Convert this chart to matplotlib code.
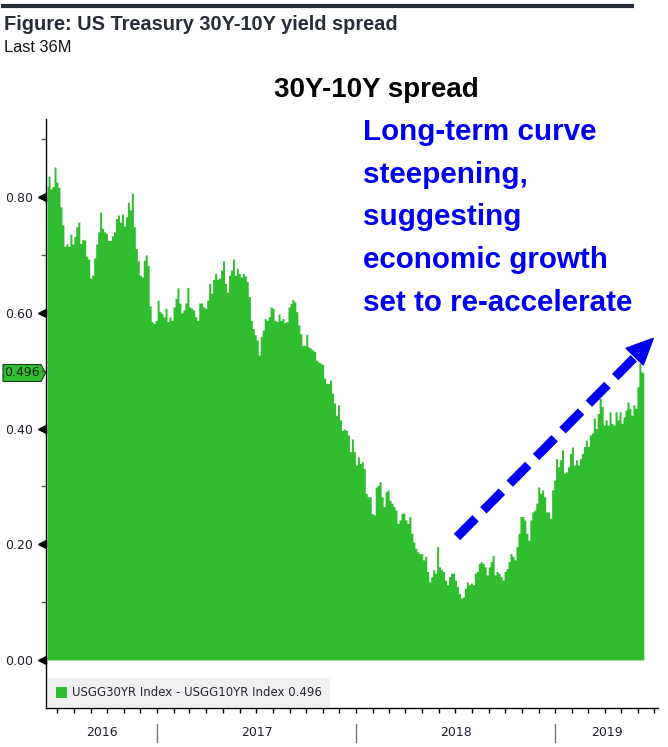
import matplotlib
matplotlib.use("Agg")
import matplotlib.pyplot as plt
import matplotlib.dates as mdates
from matplotlib.patches import Polygon, FancyBboxPatch, Rectangle
from matplotlib.lines import Line2D
import pandas as pd
import numpy as np

# ---------------- data ----------------
start_date = "2016-06-13"
end_date = "2019-06-12"
spread = [
    0.819, 0.836, 0.814, 0.818, 0.852, 0.826, 0.817, 0.783, 0.752, 0.715, 0.719, 0.715, 0.736, 0.719,
    0.732, 0.749, 0.757, 0.720, 0.727, 0.726, 0.698, 0.693, 0.660, 0.665, 0.695, 0.719, 0.740, 0.774,
    0.746, 0.740, 0.737, 0.725, 0.725, 0.733, 0.740, 0.763, 0.769, 0.757, 0.771, 0.750, 0.766, 0.791,
    0.778, 0.807, 0.749, 0.711, 0.690, 0.665, 0.662, 0.691, 0.700, 0.682, 0.612, 0.585, 0.582, 0.587,
    0.622, 0.602, 0.599, 0.593, 0.608, 0.585, 0.593, 0.587, 0.610, 0.625, 0.643, 0.617, 0.600, 0.605,
    0.617, 0.644, 0.610, 0.608, 0.605, 0.593, 0.587, 0.617, 0.617, 0.610, 0.608, 0.622, 0.651,
    0.634, 0.658, 0.668, 0.658, 0.660, 0.674, 0.690, 0.651, 0.636, 0.665, 0.674, 0.693, 0.665, 0.677,
    0.668, 0.662, 0.668, 0.664, 0.654, 0.628, 0.587, 0.573, 0.562, 0.553, 0.527, 0.559, 0.570, 0.590,
    0.587, 0.593, 0.610, 0.608, 0.587, 0.585, 0.598, 0.587, 0.590, 0.583, 0.585, 0.610, 0.616, 0.623,
    0.619, 0.602, 0.579, 0.564, 0.543, 0.544, 0.563, 0.541, 0.539, 0.536, 0.533, 0.518, 0.515, 0.513,
    0.511, 0.487, 0.478, 0.478, 0.484, 0.461, 0.444, 0.423, 0.441, 0.415, 0.397,
    0.399, 0.397, 0.389, 0.360, 0.382, 0.360, 0.337, 0.351, 0.340, 0.343, 0.331, 0.288, 0.282, 0.282,
    0.253, 0.251, 0.299, 0.302, 0.308, 0.282, 0.265, 0.291, 0.294, 0.276, 0.271, 0.265, 0.259, 0.236,
    0.242, 0.253, 0.254, 0.242, 0.236, 0.248, 0.219, 0.204, 0.193, 0.187, 0.184, 0.184, 0.173, 0.179,
    0.153, 0.135, 0.144, 0.156, 0.150, 0.196, 0.161, 0.156, 0.153, 0.138, 0.130, 0.144, 0.150, 0.150,
    0.138, 0.127, 0.115, 0.107, 0.109, 0.124, 0.135, 0.130, 0.133, 0.130, 0.150, 0.153, 0.167, 0.170,
    0.167, 0.161, 0.147, 0.161, 0.170, 0.181, 0.147, 0.153, 0.150, 0.144, 0.138, 0.153, 0.158, 0.170,
    0.184, 0.179, 0.173, 0.196, 0.219, 0.248, 0.248, 0.242, 0.219, 0.207, 0.242, 0.256, 0.259, 0.271,
    0.299, 0.288, 0.294, 0.282, 0.256, 0.256, 0.245, 0.294, 0.311, 0.348, 0.334, 0.346, 0.363, 0.323,
    0.325, 0.334, 0.357, 0.368, 0.337, 0.346, 0.337, 0.348, 0.357, 0.369, 0.380, 0.369, 0.389, 0.392,
    0.418, 0.400, 0.426, 0.452, 0.438, 0.406, 0.415, 0.406, 0.429, 0.409, 0.406, 0.429, 0.415, 0.429,
    0.409, 0.420, 0.432, 0.446, 0.435, 0.423, 0.441, 0.435, 0.472, 0.513, 0.498, 0.496,
]
last_value = 0.496
ytick_values = [0.0, 0.2, 0.4, 0.6, 0.8]
ytick_minor = [0.1, 0.3, 0.5, 0.7, 0.9]
years = [2016, 2017, 2018, 2019]
series_label = "USGG30YR Index - USGG10YR Index 0.496"
fig_title = "Figure: US Treasury 30Y-10Y yield spread"
fig_subtitle = "Last 36M"
chart_title = "30Y-10Y spread"
annotation = "Long-term curve\nsteepening,\nsuggesting\neconomic growth\nset to re-accelerate"

GREEN = "#30BE30"
BLUE = "#0000F0"
DARK = "#262c38"

W, H = 668, 747
plt.rcParams["lines.scale_dashes"] = False
fig = plt.figure(figsize=(W / 100, H / 100), dpi=100)


def fx(px):
    return px / W


def fy(py):
    return 1 - py / H


ax_left, ax_right, ax_top, ax_bottom = 46, 658, 119, 708
ax = fig.add_axes([fx(ax_left), fy(ax_bottom), fx(ax_right) - fx(ax_left), fy(ax_top) - fy(ax_bottom)])

dates = pd.date_range(start_date, end_date, periods=len(spread))
ax.fill_between(dates, spread, 0, step="mid", color=GREEN, linewidth=0)

ax.set_ylim(-0.083, 0.935)
ax.set_xlim(pd.Timestamp("2016-06-11"), pd.Timestamp("2019-07-08"))

for s in ["top", "right"]:
    ax.spines[s].set_visible(False)
for s in ["left", "bottom"]:
    ax.spines[s].set_color("black")
    ax.spines[s].set_linewidth(1.0)

# y axis
ax.set_yticks(ytick_values)
ax.set_yticklabels([f"{v:.2f}" for v in ytick_values])
ax.set_yticks(ytick_minor, minor=True)
ax.tick_params(axis="y", which="major", length=0, pad=9, labelsize=9, labelcolor="#1e2030")
ax.tick_params(axis="y", which="minor", length=3.5, width=1, color="#555555")
ytr = ax.get_yaxis_transform()
ax.plot([-0.007] * len(ytick_values), ytick_values, linestyle="none", marker="<", markersize=5.5,
        color="black", transform=ytr, clip_on=False)

# x axis
ax.xaxis.set_major_locator(mdates.YearLocator())
ax.xaxis.set_minor_locator(mdates.MonthLocator())
ax.xaxis.set_major_formatter(plt.NullFormatter())
ax.tick_params(axis="x", which="both", length=3.5, width=1, color="black", direction="out")

xtr = ax.get_xaxis_transform()
h_ax = ax_bottom - ax_top
xl = ax.get_xlim()
for i, yr in enumerate(years):
    a = max(mdates.date2num(pd.Timestamp(f"{yr}-01-01")), xl[0])
    b = min(mdates.date2num(pd.Timestamp(f"{yr + 1}-01-01")), xl[1])
    ax.text((a + b) / 2, -(733 - ax_bottom) / h_ax, str(yr), transform=xtr, ha="center", va="center",
            fontsize=9, color="#1e2030")
    if yr > years[0]:
        xs = mdates.date2num(pd.Timestamp(f"{yr}-01-01"))
        ax.plot([xs, xs], [-(724 - ax_bottom) / h_ax, -(742 - ax_bottom) / h_ax], transform=xtr,
                color="#777777", lw=1, clip_on=False)

# last value tag
tag_half = 8.5 / (H * ax.get_position().height) * (0.935 + 0.083)
w_ax = ax_right - ax_left
tag = Polygon([((3 - ax_left) / w_ax, last_value - tag_half), ((41 - ax_left) / w_ax, last_value - tag_half),
               ((45.5 - ax_left) / w_ax, last_value), ((41 - ax_left) / w_ax, last_value + tag_half),
               ((3 - ax_left) / w_ax, last_value + tag_half)], closed=True, transform=ytr,
              facecolor=GREEN, edgecolor="#1a3a1a", lw=0.8, clip_on=False)
ax.add_patch(tag)
ax.text((22 - ax_left) / w_ax, last_value, f"{last_value:.3f}", transform=ytr, ha="center", va="center",
        fontsize=9, color="#102010")

# legend
leg = FancyBboxPatch((fx(48), fy(707)), fx(330) - fx(48), fy(678) - fy(707),
                     boxstyle="round,pad=0,rounding_size=0.004", transform=fig.transFigure,
                     facecolor="#f0f0f0", edgecolor="none")
fig.add_artist(leg)
fig.add_artist(Rectangle((fx(56), fy(698)), fx(67) - fx(56), fy(687) - fy(698), transform=fig.transFigure,
                         facecolor=GREEN, edgecolor="none"))
fig.text(fx(72), fy(693), series_label, ha="left", va="center", fontsize=8.5, color="#262636")

# header
fig.add_artist(Line2D([fx(3), fx(632)], [fy(5.5), fy(5.5)], color=DARK, lw=3.0))
fig.text(fx(4), fy(30), fig_title, ha="left", va="baseline", fontsize=14.4, fontweight="bold",
         family=["Liberation Sans", "DejaVu Sans"], color=DARK)
fig.text(fx(4), fy(52), fig_subtitle, ha="left", va="baseline", fontsize=11.8,
         family=["Liberation Sans", "DejaVu Sans"], color="#111111")
fig.text(fx(376), fy(97), chart_title, ha="center", va="baseline", fontsize=20, fontweight="bold",
         family=["Liberation Sans", "DejaVu Sans"], color="black")

# blue annotation
fig.text(fx(363), fy(118), annotation, ha="left", va="top", fontsize=21.3, fontweight="bold",
         family=["Liberation Sans", "DejaVu Sans"], color=BLUE, linespacing=1.67)

# dashed arrow
p0 = (457, 537)
p1 = (637, 355)
line = Line2D([fx(p0[0]), fx(p1[0])], [fy(p0[1]), fy(p1[1])], color=BLUE, lw=6.5,
              linestyle=(0, (19, 8)), solid_capstyle="butt", dash_capstyle="butt")
fig.add_artist(line)
head = Polygon([(fx(653.3), fy(338.3)), (fx(626), fy(348.3)), (fx(643.3), fy(365))], closed=True,
               transform=fig.transFigure, facecolor=BLUE, edgecolor=BLUE)
fig.add_artist(head)

fig.savefig("out.png", dpi=100)
